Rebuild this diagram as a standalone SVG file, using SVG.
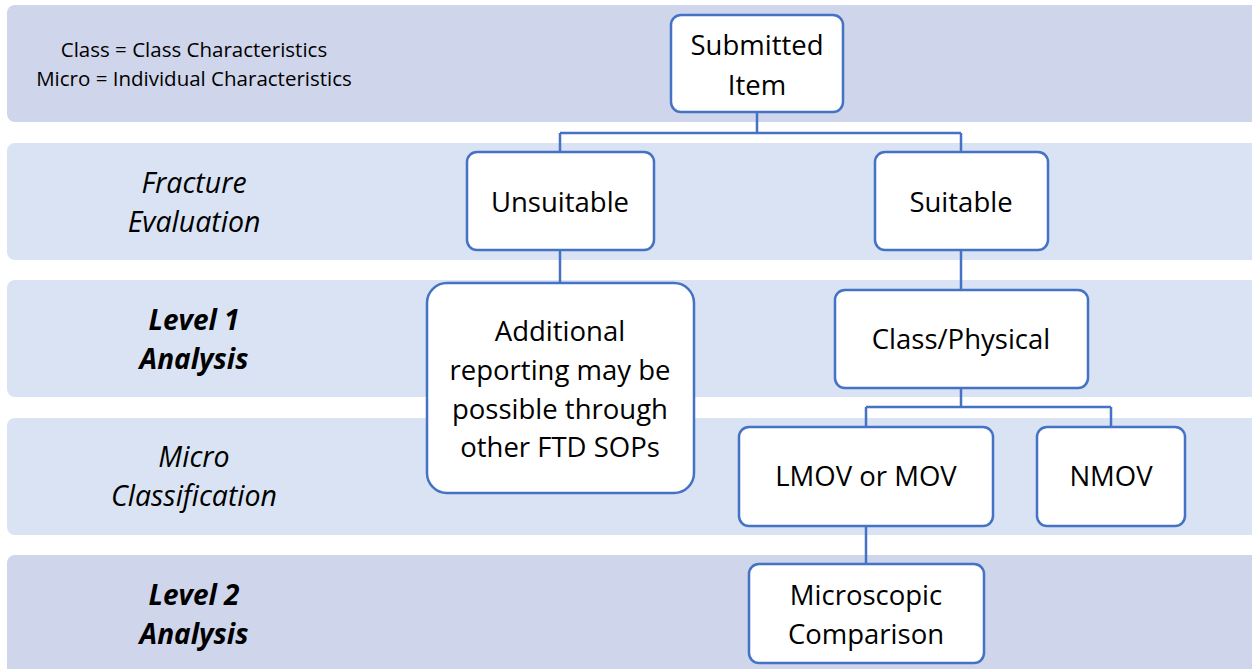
<svg xmlns="http://www.w3.org/2000/svg" width="1252" height="669" viewBox="0 0 1252 669">
<style>
.bandA{fill:#CFD5EA}
.bandB{fill:#DAE3F3}
.box{fill:#FFFFFF;stroke:#4472C4;stroke-width:2.5}
.conn{fill:none;stroke:#4472C4;stroke-width:2.5}
text{font-family:"Open Sans","Noto Sans","Liberation Sans",sans-serif;fill:#000000;text-anchor:middle}
.t{font-size:27.5px}
.s{font-size:20.5px}
.lbl{font-size:28.5px;font-style:italic}
.lblb{font-size:28px;font-style:italic;font-weight:bold}
</style>
<g id="bands">
<rect class="bandA" x="7" y="5" width="1252" height="117" rx="8"/>
<rect class="bandB" x="7" y="143" width="1252" height="117" rx="8"/>
<rect class="bandB" x="7" y="280" width="1252" height="117" rx="8"/>
<rect class="bandB" x="7" y="418" width="1252" height="117" rx="8"/>
<rect class="bandA" x="7" y="555" width="1252" height="130" rx="8"/>
</g>
<g id="legend">
<text class="s" x="194" y="57">Class = Class Characteristics</text>
<text class="s" x="194" y="86">Micro = Individual Characteristics</text>
</g>
<g id="row-labels">
<text class="lbl" x="194" y="193">Fracture</text>
<text class="lbl" x="194" y="232">Evaluation</text>
<text class="lblb" x="194" y="330">Level 1</text>
<text class="lblb" x="194" y="369">Analysis</text>
<text class="lbl" x="194" y="467">Micro</text>
<text class="lbl" x="194" y="506">Classification</text>
<text class="lblb" x="194" y="605">Level 2</text>
<text class="lblb" x="194" y="644">Analysis</text>
</g>
<g id="connectors">
<path class="conn" d="M757,112 V133 M560,133 H961 M560,133 V152 M961,133 V152"/>
<path class="conn" d="M560,250 V283"/>
<path class="conn" d="M961,250 V290"/>
<path class="conn" d="M961,388 V407 M866,407 H1111 M866,407 V427 M1111,407 V427"/>
<path class="conn" d="M866,526 V564"/>
</g>
<g id="node-submitted">
<rect class="box" x="671" y="15" width="172" height="97" rx="10"/>
<text class="t" x="757" y="55">Submitted</text>
<text class="t" x="757" y="95">Item</text>
</g>
<g id="node-unsuitable">
<rect class="box" x="467" y="152" width="187" height="98" rx="10"/>
<text class="t" x="560" y="212">Unsuitable</text>
</g>
<g id="node-suitable">
<rect class="box" x="875" y="152" width="173" height="98" rx="10"/>
<text class="t" x="961" y="212">Suitable</text>
</g>
<g id="node-additional">
<rect class="box" x="427" y="283" width="267" height="210" rx="20"/>
<text class="t" x="560" y="341">Additional</text>
<text class="t" x="560" y="380">reporting may be</text>
<text class="t" x="560" y="419">possible through</text>
<text class="t" x="560" y="457">other FTD SOPs</text>
</g>
<g id="node-class">
<rect class="box" x="835" y="290" width="253" height="98" rx="10"/>
<text class="t" x="961" y="349">Class/Physical</text>
</g>
<g id="node-lmov">
<rect class="box" x="739" y="427" width="254" height="99" rx="10"/>
<text class="t" x="866" y="486">LMOV or MOV</text>
</g>
<g id="node-nmov">
<rect class="box" x="1037" y="427" width="148" height="99" rx="10"/>
<text class="t" x="1111" y="486">NMOV</text>
</g>
<g id="node-microscopic">
<rect class="box" x="749" y="564" width="235" height="99" rx="10"/>
<text class="t" x="866" y="605">Microscopic</text>
<text class="t" x="866" y="644">Comparison</text>
</g>
</svg>
